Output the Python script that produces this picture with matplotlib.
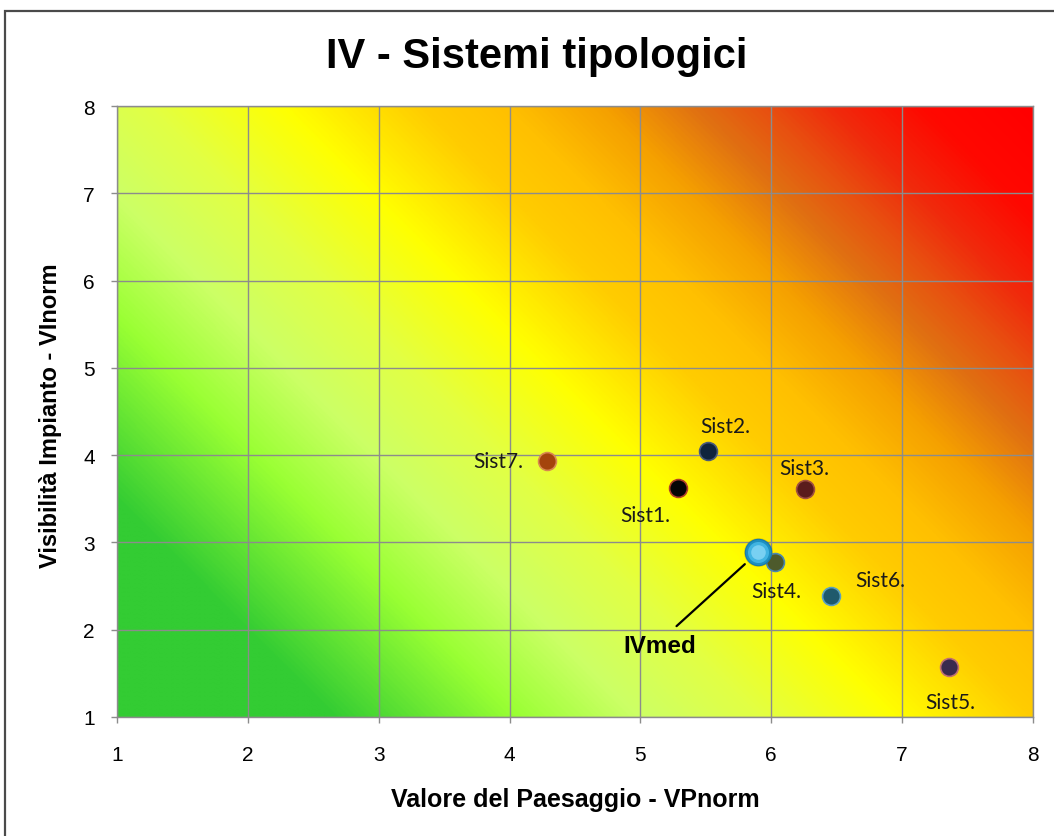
import numpy as np
import matplotlib
matplotlib.use("Agg")
import matplotlib.pyplot as plt
from matplotlib.colors import LinearSegmentedColormap
from matplotlib.patches import Rectangle

# ---- data ----
names = ['Sist1.', 'Sist2.', 'Sist3.', 'Sist4.', 'Sist5.', 'Sist6.', 'Sist7.']
vp_norm = [5.29, 5.52, 6.26, 6.03, 7.36, 6.46, 4.285]
vi_norm = [3.62, 4.05, 3.61, 2.78, 1.57, 2.39, 3.93]
ivmed_name = 'IVmed'
ivmed_vp = [5.90]
ivmed_vi = [2.89]
x_ticks = [1, 2, 3, 4, 5, 6, 7, 8]
y_ticks = [1, 2, 3, 4, 5, 6, 7, 8]

# ---- styles ----
fill_colors = ['#050505', '#10243d', '#5a1c1c', '#4d5a2c', '#3a2a4e', '#1f5a6c', '#a4440c']
edge_colors = ['#b04028', '#4a5a7a', '#a05040', '#4a88b0', '#c07070', '#5aa0c0', '#d88850']
# label offsets in points (dx, dy)
label_offsets = [(-24, -19), (12, 18), (-1, 15), (1, -21), (1, -25), (35, 11), (-35, 0)]

W, H = 1054, 837
fig = plt.figure(figsize=(W / 100, H / 100), dpi=100)
fig.patch.set_facecolor('white')

ax_l, ax_r, ax_t, ax_b = 117, 1033, 107, 718
ax = fig.add_axes([ax_l / W, 1 - ax_b / H, (ax_r - ax_l) / W, (ax_b - ax_t) / H])

# outer frame
fig.patches.append(Rectangle((5 / W, -0.05), 1.2, 1 - 12 / H + 0.05,
                             transform=fig.transFigure, fill=False,
                             edgecolor='#4a4a4a', linewidth=1.6, zorder=0))

# diagonal gradient background (45 deg in pixel space)
pw, ph = ax_r - ax_l, ax_b - ax_t
nx, ny = 700, 470
X, Y = np.meshgrid(np.linspace(0, 1, nx), np.linspace(0, 1, ny))
U = (X * pw + Y * ph) / (pw + ph)
stops = [
    (0.00, '#33cc33'),
    (0.14, '#33cc33'),
    (0.22, '#77ee33'),
    (0.26, '#99ff33'),
    (0.34, '#ccff66'),
    (0.42, '#e2ff44'),
    (0.51, '#ffff00'),
    (0.60, '#ffcc00'),
    (0.655, '#ffc000'),
    (0.72, '#f5a000'),
    (0.78, '#e07012'),
    (0.825, '#e85010'),
    (0.87, '#f02a0c'),
    (0.93, '#ff0800'),
    (1.00, '#ff0000'),
]
cmap = LinearSegmentedColormap.from_list('bg', stops)
ax.imshow(U, cmap=cmap, origin='lower', extent=(1, 8, 1, 8), aspect='auto',
          interpolation='bilinear', zorder=0, vmin=0, vmax=1)

ax.set_xlim(1, 8)
ax.set_ylim(1, 8)
ax.set_xticks(x_ticks)
ax.set_yticks(y_ticks)
ax.grid(True, color='#8c8c8c', linewidth=1.0, zorder=1)
ax.set_axisbelow(False)
for s in ax.spines.values():
    s.set_color('#8c8c8c')
    s.set_linewidth(1.0)
    s.set_zorder(2)
ax.tick_params(axis='both', colors='#8c8c8c', length=4.5, width=1.0,
               labelcolor='black', labelsize=15)
ax.tick_params(axis='x', pad=15.5)
ax.tick_params(axis='y', pad=11.5)
for lab in ax.get_xticklabels() + ax.get_yticklabels():
    lab.set_fontfamily('Liberation Sans')

# points
for i in range(len(names)):
    ax.scatter([vp_norm[i]], [vi_norm[i]], s=165, color=fill_colors[i],
               edgecolors=edge_colors[i], linewidths=1.2, zorder=4)
    ax.annotate(names[i], (vp_norm[i], vi_norm[i]), xytext=label_offsets[i],
                textcoords='offset points', ha='center', va='center',
                fontsize=15, family=['Lato', 'DejaVu Sans'], color='#1a1a1a', zorder=6)

# IVmed sphere (shadow, body, highlight)
ax.scatter(ivmed_vp, ivmed_vi, s=430, color='#806000', alpha=0.25, linewidths=0, zorder=4.5)
ax.scatter(ivmed_vp, ivmed_vi, s=360, color='#1e8fc0', edgecolors='#137ab0',
           linewidths=0.8, zorder=5)
ax.scatter(ivmed_vp, ivmed_vi, s=230, color='#40b4e2', linewidths=0, zorder=5.1)
ax.scatter(ivmed_vp, ivmed_vi, s=110, color='#7fd4f4', linewidths=0, alpha=0.9, zorder=5.2)
ax.annotate(ivmed_name, (ivmed_vp[0], ivmed_vi[0]), xytext=(-71, -67),
            textcoords='offset points', ha='center', va='center',
            fontsize=17.5, fontweight='bold', family='Liberation Sans', color='black',
            arrowprops=dict(arrowstyle='-', color='black', lw=1.6,
                            shrinkA=5, shrinkB=13, relpos=(0.62, 1.0)),
            zorder=6)

# titles
fig.text(537 / W, 1 - 57 / H, 'IV - Sistemi tipologici', ha='center', va='center',
         fontsize=30, fontweight='bold', family='Liberation Sans')
fig.text(575 / W, 1 - 800 / H, 'Valore del Paesaggio - VPnorm', ha='center', va='center',
         fontsize=18, fontweight='bold', family='Liberation Sans')
fig.text(51 / W, 1 - 416 / H, 'Visibilità Impianto - VInorm', ha='center', va='center',
         rotation=90, fontsize=17, fontweight='bold', family='Liberation Sans')

fig.savefig('out.png', dpi=100)
